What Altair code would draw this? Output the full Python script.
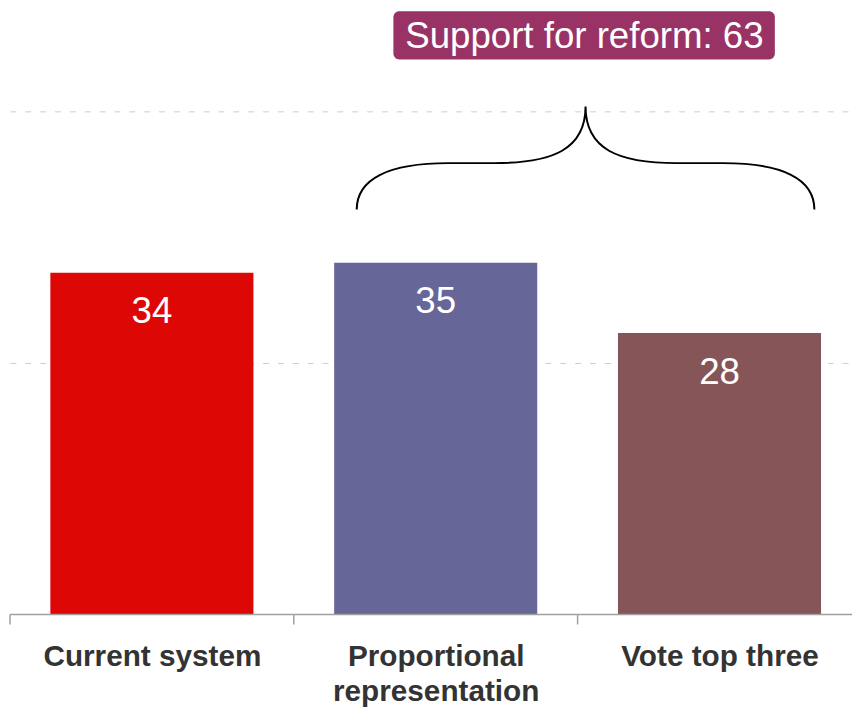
import altair as alt
import pandas as pd

# ---- data ----
categories = ["Current system", "Proportional representation", "Vote top three"]
values = [34, 35, 28]
bar_colors = ["#DD0806", "#666699", "#865558"]
annotation_text = ["Support for reform: 63"]

FONT = "Liberation Sans"

bars_df = pd.DataFrame({
    "option": categories,
    "share": values,
    "color": bar_colors,
    "pos": list(range(len(categories))),
})

# annotation anchors (x in category-step units, y in data units)
brace_df = pd.DataFrame({"x": [2.028], "y": [45.4]})
box_df = pd.DataFrame({"x": [1.351], "x2": [2.695], "y": [60.0], "y2": [55.2]})
label_df = pd.DataFrame({"x": [2.024], "y": [57.4], "text": annotation_text})
base_df = pd.DataFrame({"y": [0]})

PLOT_W = 850
PLOT_H = 609
STEP_PX = 286.5
BAR_FRAC = 0.7155
Y_MAX = 60
TICK_LEN_DATA = -10 * Y_MAX / PLOT_H  # 10px tick below the baseline

yscale = alt.Scale(domain=[0, Y_MAX], nice=False)
xscale = alt.Scale(domain=[0, PLOT_W / STEP_PX], nice=False, zero=False)


def _lab(c):
    parts = c.split(" ")
    if len(c) > 20:
        return "[" + ", ".join("'" + p + "'" for p in parts) + "]"
    return "'" + c + "'"


label_expr = ""
for i, c in enumerate(categories):
    label_expr += f"datum.value == {i + 0.5} ? {_lab(c)} : "
label_expr += "''"

x_axis = alt.Axis(
    values=[i + 0.5 for i in range(len(categories))],
    labelExpr=label_expr,
    labelAngle=0,
    labelFont=FONT,
    labelFontSize=30,
    labelFontWeight="bold",
    labelColor="#333333",
    labelPadding=27,
    labelLineHeight=36,
    labelBaseline="top",
    labelAlign="center",
    labelLimit=0,
    labelFlush=False,
    labelOverlap=False,
    ticks=False,
    domain=False,
    grid=False,
    orient="bottom",
)

y_axis = alt.Axis(
    values=[25, 50],
    labels=False,
    ticks=False,
    domain=False,
    grid=True,
    gridColor="#CCCCCC",
    gridDash=[6, 9],
    gridWidth=1,
)

half_gap = (1 - BAR_FRAC) / 2

bars = alt.Chart(bars_df).transform_calculate(
    x0=f"datum.pos + {half_gap}", x1=f"datum.pos + {1 - half_gap}"
).mark_rect().encode(
    x=alt.X("x0:Q", scale=xscale, title=None, axis=x_axis),
    x2="x1:Q",
    y=alt.Y("share:Q", scale=yscale, title=None, axis=y_axis),
    y2=alt.datum(0),
    color=alt.Color("color:N", scale=None),
)

value_labels = alt.Chart(bars_df).transform_calculate(
    xc="datum.pos + 0.5"
).mark_text(
    font=FONT, fontSize=37, color="white", baseline="middle", dy=40
).encode(
    x=alt.X("xc:Q", scale=xscale, title=None, axis=x_axis),
    y=alt.Y("share:Q", scale=yscale, title=None, axis=y_axis),
    text=alt.Text("share:Q"),
)

ticks = alt.Chart(bars_df).mark_rule(color="#A0A0A0", strokeWidth=1.5).encode(
    x=alt.X("pos:Q", scale=xscale, title=None, axis=x_axis),
    y=alt.Y("y0:Q", scale=yscale, title=None, axis=y_axis),
    y2="y1:Q",
).transform_calculate(y0="0", y1=f"{TICK_LEN_DATA}")

baseline = alt.Chart(base_df).mark_rule(color="#A0A0A0", strokeWidth=1.5).encode(
    y=alt.Y("y:Q", scale=yscale, title=None, axis=y_axis),
)

brace_path = (
    "M -1 0.225 C -1 0.09 -0.86 0.022 -0.6 0.022 L -0.4 0.022 "
    "C -0.14 0.022 0 -0.04 0 -0.225 "
    "C 0 -0.04 0.14 0.022 0.4 0.022 L 0.6 0.022 "
    "C 0.86 0.022 1 0.09 1 0.225"
)

brace = alt.Chart(brace_df).mark_point(
    shape=brace_path, size=462 * 462, filled=False, stroke="black", strokeWidth=2, opacity=1
).encode(
    x=alt.X("x:Q", scale=xscale, title=None, axis=x_axis),
    y=alt.Y("y:Q", scale=yscale, title=None, axis=y_axis),
)

box = alt.Chart(box_df).mark_rect(cornerRadius=6, color="#993366").encode(
    x=alt.X("x:Q", scale=xscale, title=None, axis=x_axis),
    x2="x2:Q",
    y=alt.Y("y:Q", scale=yscale, title=None, axis=y_axis),
    y2="y2:Q",
)

box_text = alt.Chart(label_df).mark_text(
    font=FONT, fontSize=37, color="white", baseline="middle"
).encode(
    x=alt.X("x:Q", scale=xscale, title=None, axis=x_axis),
    y=alt.Y("y:Q", scale=yscale, title=None, axis=y_axis),
    text="text:N",
)

chart = (
    alt.layer(bars, value_labels, ticks, baseline, brace, box, box_text)
    .properties(
        width=PLOT_W,
        height=PLOT_H,
        background="white",
        autosize=alt.AutoSizeParams(type="none"),
        padding={"left": 2, "top": 0, "right": 0, "bottom": 94},
    )
    .configure_view(stroke=None)
)

chart.save("out.html", embed_options={"renderer": "svg", "actions": False})
